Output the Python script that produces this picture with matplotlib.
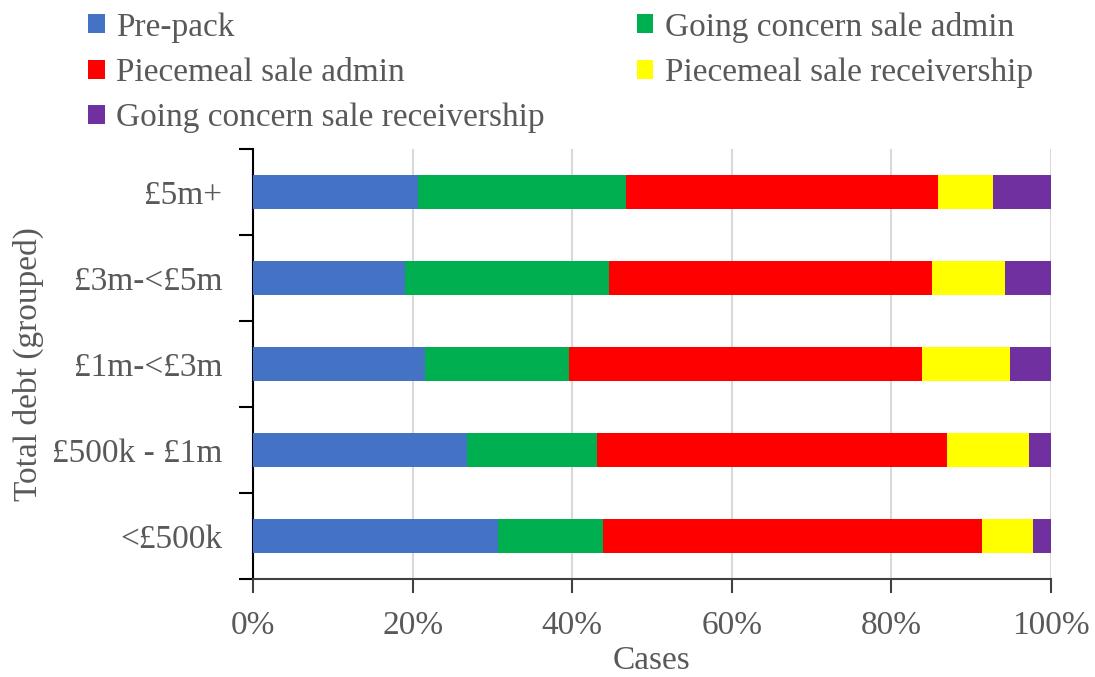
import numpy as np
import matplotlib.pyplot as plt

plt.rcParams["font.family"] = ["Liberation Serif", "DejaVu Serif"]

categories = ["<£500k", "£500k - £1m", "£1m-<£3m", "£3m-<£5m", "£5m+"]
series = ["Pre-pack", "Going concern sale admin", "Piecemeal sale admin",
          "Piecemeal sale receivership", "Going concern sale receivership"]
colors = ["#4472C4", "#00B050", "#FF0000", "#FFFF00", "#7030A0"]

# shares in %, bottom category first
pre_pack = [30.7, 26.8, 21.6, 19.1, 20.7]
gc_admin = [13.1, 16.3, 18.0, 25.5, 26.0]
pm_admin = [47.5, 43.9, 44.2, 40.5, 39.2]
pm_receiv = [6.5, 10.2, 11.1, 9.1, 6.8]
gc_receiv = [2.2, 2.8, 5.1, 5.8, 7.3]
values = [pre_pack, gc_admin, pm_admin, pm_receiv, gc_receiv]

grey = "#595959"
fs = 24

fig = plt.figure(figsize=(10.95, 6.77), dpi=100)
ax = fig.add_axes([253 / 1095, 1 - 579 / 677, 798 / 1095, 430 / 677])

y = np.arange(len(categories))
left = np.zeros(len(categories))
handles = []
for name, vals, c in zip(series, values, colors):
    vals = np.array(vals)
    b = ax.barh(y, vals / 100, left=left, height=0.4, color=c, label=name, zorder=3)
    handles.append(b)
    left += vals / 100

ax.set_xlim(0, 1)
ax.set_ylim(-0.5, len(categories) - 0.5)
ticks = np.arange(0, 1.01, 0.2)
ax.set_xticks(ticks)
ax.set_xticklabels([f"{int(round(v * 100))}%" for v in ticks])
ax.set_yticks(y)
ax.set_yticklabels(categories)
ax.set_yticks(np.arange(-0.5, len(categories)), minor=True)

ax.grid(axis="x", color="#D9D9D9", linewidth=1.5, zorder=0)
ax.tick_params(axis="y", which="major", length=0, pad=22, labelsize=fs, labelcolor=grey)
ax.tick_params(axis="y", which="minor", length=10, width=1.5, color="black")
ax.tick_params(axis="x", length=10, width=1.5, color="#404040", labelsize=fs,
               labelcolor=grey, pad=13)

for s in ["top", "right"]:
    ax.spines[s].set_visible(False)
ax.spines["left"].set_linewidth(1.5)
ax.spines["left"].set_color("black")
ax.spines["bottom"].set_linewidth(1.5)
ax.spines["bottom"].set_color("#404040")

ax.set_xlabel("Cases", fontsize=fs, color=grey, labelpad=3)
ax.set_ylabel("Total debt (grouped)", fontsize=fs, color=grey, labelpad=6)

order = [0, 2, 4, 1, 3]
fig.legend([handles[i] for i in order], [series[i] for i in order],
           ncol=2, loc="upper left", bbox_to_anchor=(58 / 1095, 1.027),
           frameon=False, fontsize=fs, labelcolor=grey,
           handlelength=0.5, handleheight=0.5, handletextpad=0.35,
           columnspacing=2.75, labelspacing=0.44)

fig.savefig("out.png", dpi=100)
